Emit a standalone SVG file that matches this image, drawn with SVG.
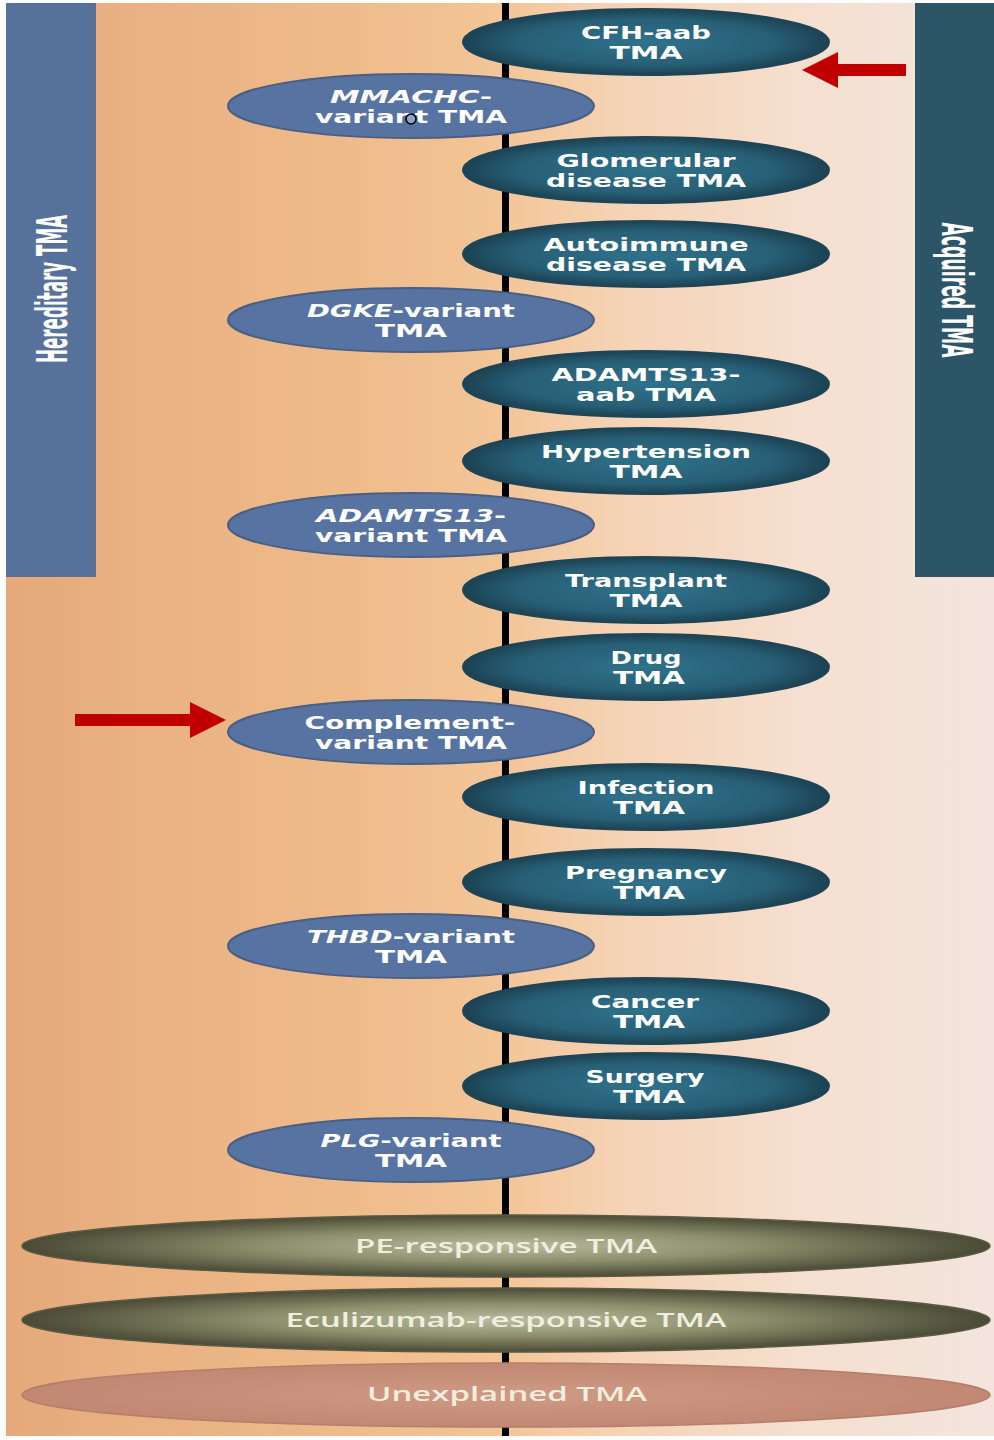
<svg xmlns="http://www.w3.org/2000/svg" width="994" height="1440" viewBox="0 0 994 1440">
<defs>
<linearGradient id="bg" x1="0" y1="0" x2="1" y2="0">
<stop offset="0" stop-color="#e5a97a"/>
<stop offset="0.12" stop-color="#e9b081"/>
<stop offset="0.35" stop-color="#efbb8a"/>
<stop offset="0.5" stop-color="#f3c597"/>
<stop offset="0.62" stop-color="#f5d3b5"/>
<stop offset="0.8" stop-color="#f5dfcf"/>
<stop offset="1" stop-color="#f3e5de"/>
</linearGradient>
<radialGradient id="teal" cx="0.5" cy="0.5" r="0.5">
<stop offset="0" stop-color="#2f728b"/>
<stop offset="0.7" stop-color="#275f76"/>
<stop offset="1" stop-color="#1c4253"/>
</radialGradient>
<radialGradient id="olive" cx="0.5" cy="0.5" r="0.5">
<stop offset="0" stop-color="#b8bc9f"/>
<stop offset="0.5" stop-color="#8d906d"/>
<stop offset="1" stop-color="#4a4a36"/>
</radialGradient>
<radialGradient id="rose" cx="0.5" cy="0.5" r="0.5">
<stop offset="0" stop-color="#cf9a85"/>
<stop offset="1" stop-color="#c18873"/>
</radialGradient>
<style>
.rt{fill:url(#teal);stroke:#1d4555;stroke-width:2}
.lb{fill:#5673a2;stroke:#4a5f84;stroke-width:2}
.bo{fill:url(#olive);stroke:#5a5a42;stroke-width:1.5}
.bu{fill:url(#rose);stroke:#b57e6a;stroke-width:1.5}
.t{font-family:"DejaVu Sans","Liberation Sans",sans-serif;font-weight:bold;font-size:18px;fill:#ffffff;text-anchor:middle}
.tb{font-family:"Open Sans","Liberation Sans",sans-serif;font-weight:600;font-size:19px;fill:#f2eedf;text-anchor:middle}
.ban{font-family:"Liberation Sans Narrow","DejaVu Sans Condensed","Liberation Sans",sans-serif;font-weight:bold;font-size:42px;fill:#ffffff;text-anchor:middle}
.i{font-style:italic}
.arr{fill:#c00000}
</style>
</defs>

<rect x="0" y="0" width="994" height="1440" fill="#ffffff"/>
<rect id="background" x="6" y="3" width="988" height="1433" fill="url(#bg)"/>

<g id="banner-hereditary">
<rect x="6" y="3" width="90" height="574" fill="#56719a"/>
<text class="ban" transform="translate(67,289) rotate(-90)" textLength="148" lengthAdjust="spacingAndGlyphs">Hereditary TMA</text>
</g>
<g id="banner-acquired">
<rect x="915" y="3" width="79" height="574" fill="#2d5568"/>
<text class="ban" transform="translate(942,290) rotate(90)" textLength="135" lengthAdjust="spacingAndGlyphs">Acquired TMA</text>
</g>

<g id="connectors">
<rect x="502" y="3" width="7" height="1433" fill="#000000"/>
<polygon class="arr" points="906,64 838,64 838,52 802,70 838,88 838,76 906,76"/>
<polygon class="arr" points="75,714 190,714 190,702 226,720 190,738 190,726 75,726"/>
</g>

<g id="cfh-aab">
<ellipse class="rt" cx="646" cy="42" rx="183" ry="33"/>
<text class="t" x="646" y="39" textLength="130" lengthAdjust="spacingAndGlyphs">CFH-aab</text>
<text class="t" x="646" y="59" textLength="73" lengthAdjust="spacingAndGlyphs">TMA</text>
</g>
<g id="mmachc">
<ellipse class="lb" cx="411" cy="106" rx="183" ry="32"/>
<text class="t" x="411" y="103" textLength="162" lengthAdjust="spacingAndGlyphs"><tspan class="i">MMACHC</tspan>-</text>
<text class="t" x="411" y="123" textLength="192" lengthAdjust="spacingAndGlyphs">variant TMA</text>
<circle cx="411" cy="119" r="5" fill="#8aa6cc" stroke="#000000" stroke-width="1.6"/>
</g>
<g id="glomerular">
<ellipse class="rt" cx="646" cy="170" rx="183" ry="33"/>
<text class="t" x="646" y="167" textLength="179" lengthAdjust="spacingAndGlyphs">Glomerular</text>
<text class="t" x="646" y="187" textLength="200" lengthAdjust="spacingAndGlyphs">disease TMA</text>
</g>
<g id="autoimmune">
<ellipse class="rt" cx="646" cy="254" rx="183" ry="33"/>
<text class="t" x="646" y="251" textLength="205" lengthAdjust="spacingAndGlyphs">Autoimmune</text>
<text class="t" x="646" y="271" textLength="200" lengthAdjust="spacingAndGlyphs">disease TMA</text>
</g>
<g id="dgke">
<ellipse class="lb" cx="411" cy="320" rx="183" ry="32"/>
<text class="t" x="411" y="317" textLength="208" lengthAdjust="spacingAndGlyphs"><tspan class="i">DGKE</tspan>-variant</text>
<text class="t" x="411" y="337" textLength="72" lengthAdjust="spacingAndGlyphs">TMA</text>
</g>
<g id="adamts13-aab">
<ellipse class="rt" cx="646" cy="384" rx="183" ry="33"/>
<text class="t" x="646" y="381" textLength="189" lengthAdjust="spacingAndGlyphs">ADAMTS13-</text>
<text class="t" x="646" y="401" textLength="140" lengthAdjust="spacingAndGlyphs">aab TMA</text>
</g>
<g id="hypertension">
<ellipse class="rt" cx="646" cy="461" rx="183" ry="33"/>
<text class="t" x="646" y="458" textLength="210" lengthAdjust="spacingAndGlyphs">Hypertension</text>
<text class="t" x="646" y="478" textLength="73" lengthAdjust="spacingAndGlyphs">TMA</text>
</g>
<g id="adamts13-variant">
<ellipse class="lb" cx="411" cy="525" rx="183" ry="32"/>
<text class="t" x="411" y="522" textLength="190" lengthAdjust="spacingAndGlyphs"><tspan class="i">ADAMTS13</tspan>-</text>
<text class="t" x="411" y="542" textLength="192" lengthAdjust="spacingAndGlyphs">variant TMA</text>
</g>
<g id="transplant">
<ellipse class="rt" cx="646" cy="590" rx="183" ry="33"/>
<text class="t" x="646" y="587" textLength="162" lengthAdjust="spacingAndGlyphs">Transplant</text>
<text class="t" x="646" y="607" textLength="73" lengthAdjust="spacingAndGlyphs">TMA</text>
</g>
<g id="drug">
<ellipse class="rt" cx="646" cy="667" rx="183" ry="33"/>
<text class="t" x="646" y="664" textLength="71" lengthAdjust="spacingAndGlyphs">Drug</text>
<text class="t" x="649" y="684" textLength="72" lengthAdjust="spacingAndGlyphs">TMA</text>
</g>
<g id="complement">
<ellipse class="lb" cx="411" cy="732" rx="183" ry="32"/>
<text class="t" x="410" y="729" textLength="211" lengthAdjust="spacingAndGlyphs">Complement-</text>
<text class="t" x="411" y="749" textLength="192" lengthAdjust="spacingAndGlyphs">variant TMA</text>
</g>
<g id="infection">
<ellipse class="rt" cx="646" cy="797" rx="183" ry="33"/>
<text class="t" x="646" y="794" textLength="137" lengthAdjust="spacingAndGlyphs">Infection</text>
<text class="t" x="649" y="814" textLength="72" lengthAdjust="spacingAndGlyphs">TMA</text>
</g>
<g id="pregnancy">
<ellipse class="rt" cx="646" cy="882" rx="183" ry="33"/>
<text class="t" x="646" y="879" textLength="162" lengthAdjust="spacingAndGlyphs">Pregnancy</text>
<text class="t" x="649" y="899" textLength="72" lengthAdjust="spacingAndGlyphs">TMA</text>
</g>
<g id="thbd">
<ellipse class="lb" cx="411" cy="946" rx="183" ry="32"/>
<text class="t" x="411" y="943" textLength="208" lengthAdjust="spacingAndGlyphs"><tspan class="i">THBD</tspan>-variant</text>
<text class="t" x="411" y="963" textLength="72" lengthAdjust="spacingAndGlyphs">TMA</text>
</g>
<g id="cancer">
<ellipse class="rt" cx="646" cy="1011" rx="183" ry="33"/>
<text class="t" x="645" y="1008" textLength="108" lengthAdjust="spacingAndGlyphs">Cancer</text>
<text class="t" x="649" y="1028" textLength="72" lengthAdjust="spacingAndGlyphs">TMA</text>
</g>
<g id="surgery">
<ellipse class="rt" cx="646" cy="1086" rx="183" ry="33"/>
<text class="t" x="645" y="1083" textLength="119" lengthAdjust="spacingAndGlyphs">Surgery</text>
<text class="t" x="649" y="1103" textLength="72" lengthAdjust="spacingAndGlyphs">TMA</text>
</g>
<g id="plg">
<ellipse class="lb" cx="411" cy="1150" rx="183" ry="32"/>
<text class="t" x="411" y="1147" textLength="181" lengthAdjust="spacingAndGlyphs"><tspan class="i">PLG</tspan>-variant</text>
<text class="t" x="411" y="1167" textLength="72" lengthAdjust="spacingAndGlyphs">TMA</text>
</g>

<g id="pe-responsive">
<ellipse class="bo" cx="506" cy="1246" rx="484" ry="31"/>
<text class="tb" x="506" y="1253" textLength="302" lengthAdjust="spacingAndGlyphs">PE-responsive TMA</text>
</g>
<g id="eculizumab-responsive">
<ellipse class="bo" cx="506" cy="1320" rx="484" ry="32"/>
<text class="tb" x="506" y="1327" textLength="441" lengthAdjust="spacingAndGlyphs">Eculizumab-responsive TMA</text>
</g>
<g id="unexplained">
<ellipse class="bu" cx="506" cy="1395" rx="484" ry="32"/>
<text class="tb" x="507" y="1401" textLength="280" lengthAdjust="spacingAndGlyphs">Unexplained TMA</text>
</g>
</svg>
